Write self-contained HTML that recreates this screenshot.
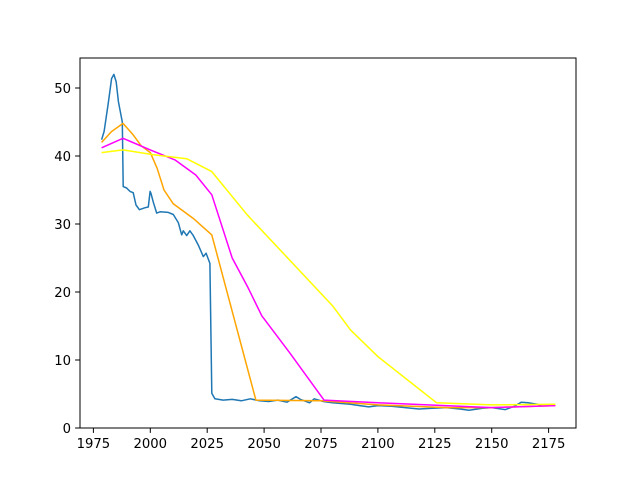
<!DOCTYPE html>
<html><head><meta charset="utf-8"><style>
body{margin:0;background:#fff;}
svg{display:block;font-family:"DejaVu Sans","Liberation Sans",sans-serif;}
</style></head><body>
<svg id="chart" width="640" height="480" viewBox="0 0 640 480" xmlns="http://www.w3.org/2000/svg">
<rect x="0" y="0" width="640" height="480" fill="#fff"/>
<g id="series"></g>
<rect x="80" y="58" width="496" height="370" fill="none" stroke="#000" stroke-width="1"/>
<g id="axes"></g>
</svg>
<script>
const xTicks=[1975,2000,2025,2050,2075,2100,2125,2150,2175];
const yTicks=[0,10,20,30,40,50];
const blueYears=[1978.6,1979.7,1981.5,1983,1984,1985,1986,1987.7,1988.1,1989.6,1991.1,1992.5,1993.7,1995.2,1997.7,1999.1,1999.9,2000.3,2001.3,2002.8,2004.3,2007.9,2010.1,2012.3,2013.8,2014.5,2016,2017.4,2018.9,2021.1,2023.3,2024.5,2026.2,2027,2028.4,2032,2036,2040,2044,2048,2052,2056,2060,2064,2066,2070,2072,2076,2080,2084,2088,2092,2096,2100,2106,2112,2118,2124,2130,2136,2140,2146,2150,2156,2160,2163,2166,2170,2172];
const blueVals=[42.4,43.6,47.7,51.4,52,50.9,48,45,35.5,35.3,34.8,34.6,32.8,32.1,32.4,32.5,34.8,34.5,33.2,31.6,31.8,31.7,31.4,30.2,28.4,29,28.3,29,28.3,26.9,25.2,25.7,24.2,5.1,4.3,4.1,4.2,4.0,4.3,4.0,3.9,4.1,3.8,4.6,4.2,3.7,4.3,3.9,3.7,3.6,3.5,3.3,3.1,3.3,3.2,3.0,2.8,2.9,3.0,2.8,2.6,2.9,3.0,2.7,3.2,3.8,3.7,3.5,3.3];
const orangeYears=[1978.6,1983,1988,1992.5,1996,2000,2003,2006,2010,2019,2027,2046.4,2075,2100,2130,2150,2178];
const orangeVals=[42,43.6,44.8,43.1,41.5,40.5,38.2,35,33,30.8,28.4,4.1,4.0,3.4,3.0,3.0,3.3];
const magentaYears=[1978.6,1988,2000,2011,2020,2027,2036,2042.7,2049,2061.4,2076.3,2100,2150,2178];
const magentaVals=[41.2,42.6,40.9,39.4,37.2,34.3,25,20.8,16.5,11,4.1,3.7,3.0,3.3];
const yellowYears=[1978.6,1988,2001,2016,2027,2042.7,2080,2088,2100,2125.8,2150,2178];
const yellowVals=[40.5,40.9,40.2,39.6,37.7,31.3,18,14.4,10.5,3.7,3.4,3.5];

const X=v=>93.4+(v-1975)*2.276;
const Y=v=>428-v*6.8;
const NS="http://www.w3.org/2000/svg";
const sg=document.getElementById('series'), ag=document.getElementById('axes');
function line(xs,ys,color,name){
  const p=document.createElementNS(NS,'polyline');
  p.setAttribute('points',xs.map((x,i)=>X(x).toFixed(1)+','+Y(ys[i]).toFixed(1)).join(' '));
  p.setAttribute('fill','none');p.setAttribute('stroke',color);p.setAttribute('stroke-width','1.5');
  p.setAttribute('stroke-linejoin','round');
  
  
  sg.appendChild(p);
}
line(blueYears,blueVals,'#1f77b4','blue-series-line');
line(orangeYears,orangeVals,'orange','orange-series-line');
line(magentaYears,magentaVals,'magenta','magenta-series-line');
line(yellowYears,yellowVals,'yellow','yellow-series-line');
xTicks.forEach(t=>{
  const l=document.createElementNS(NS,'line');
  l.setAttribute('x1',X(t));l.setAttribute('x2',X(t));l.setAttribute('y1',428);l.setAttribute('y2',432.9);l.setAttribute('stroke','#000');
  
  
  ag.appendChild(l);
  const tx=document.createElementNS(NS,'text');
  tx.setAttribute('x',X(t));tx.setAttribute('y',448);tx.setAttribute('text-anchor','middle');tx.setAttribute('font-size','13.2');
  tx.textContent=t;
  
  
  ag.appendChild(tx);
});
yTicks.forEach(t=>{
  const l=document.createElementNS(NS,'line');
  l.setAttribute('x1',75.1);l.setAttribute('x2',80);l.setAttribute('y1',Y(t));l.setAttribute('y2',Y(t));l.setAttribute('stroke','#000');
  
  
  ag.appendChild(l);
  const tx=document.createElementNS(NS,'text');
  tx.setAttribute('x',71);tx.setAttribute('y',Y(t)+5);tx.setAttribute('text-anchor','end');tx.setAttribute('font-size','13.2');
  tx.textContent=t;
  
  
  ag.appendChild(tx);
});
</script>
</body></html>
